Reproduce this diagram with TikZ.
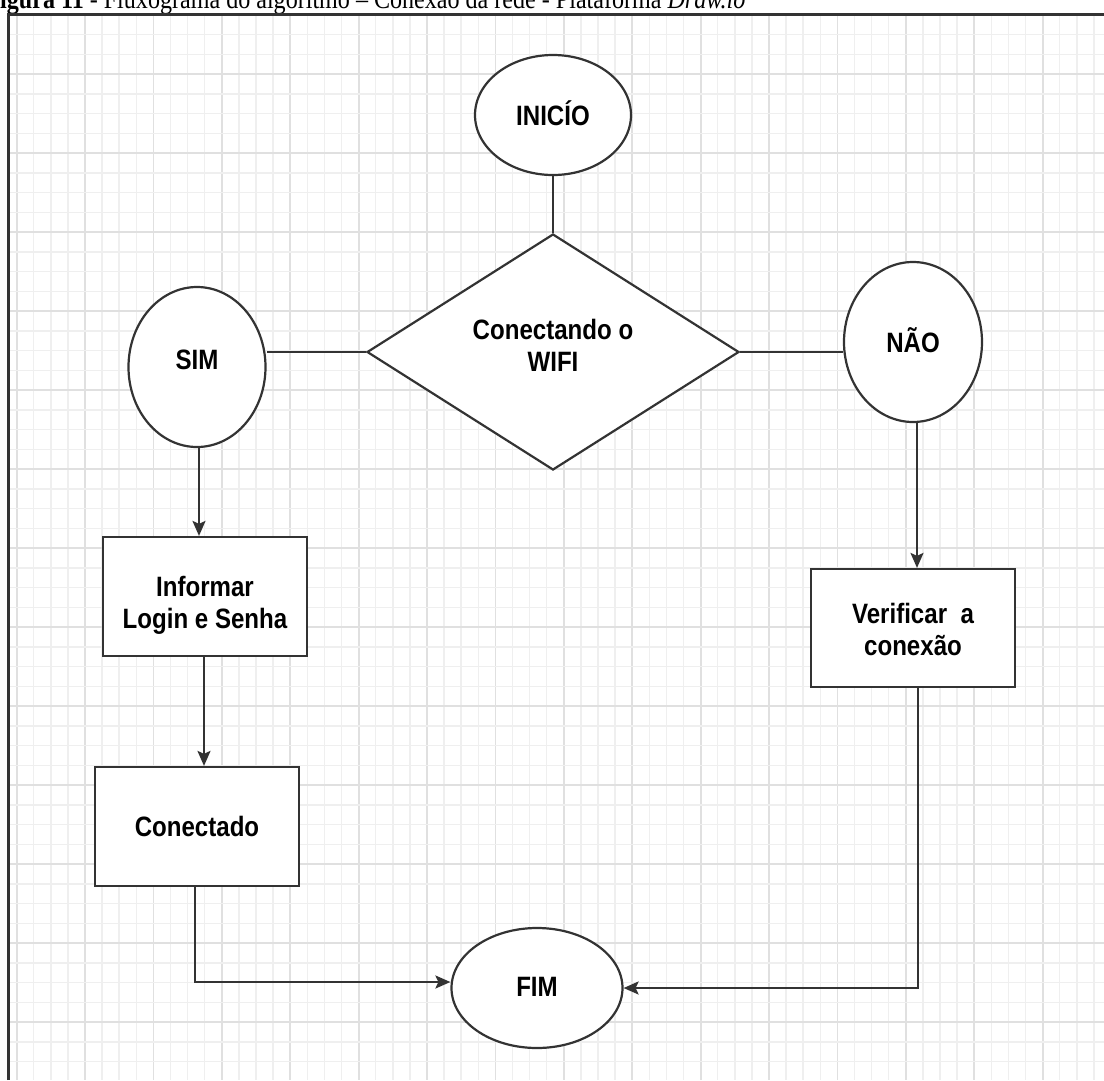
\documentclass[tikz,border=0pt]{standalone}
\usepackage{fontspec}
\usetikzlibrary{shapes.geometric,arrows.meta}
\newfontfamily\dfont{Liberation Sans}[FakeStretch=0.86]
\newfontfamily\cfont{Liberation Serif}[FakeStretch=0.86]
\definecolor{gridminor}{HTML}{EFEFEF}
\definecolor{gridmajor}{HTML}{E0E0E0}
\definecolor{strokec}{HTML}{333333}
\definecolor{framec}{HTML}{333333}
\begin{document}
\begin{tikzpicture}[x=1pt,y=-1pt,
  shp/.style={draw=strokec,line width=2.2pt,fill=white,inner sep=0pt},
  oval/.style={shp,ellipse},
  box/.style={shp,rectangle},
  lbl/.style={font=\dfont\bfseries\fontsize{28}{32}\selectfont,text=black,align=center,inner sep=0pt},
  conn/.style={draw=strokec,line width=2.2pt},
  arr/.style={conn,-{Stealth[length=15pt,width=13pt,inset=3pt]}}]
\useasboundingbox (0,0) rectangle (1104,1080);
\fill[white] (0,0) rectangle (1104,1080);
% grid
\begin{scope}
\clip (9,15) rectangle (1104,1080);
\foreach \k in {-4,...,60} {
  \pgfmathsetmacro{\xx}{85+17.1*\k}
  \pgfmathtruncatemacro{\m}{mod(\k+400,4)}
  \ifnum\m=0
    \draw[gridmajor,line width=1.8pt] (\xx,0) -- (\xx,1080);
  \else
    \draw[gridminor,line width=1.5pt] (\xx,0) -- (\xx,1080);
  \fi
}
\foreach \k in {-4,...,52} {
  \pgfmathsetmacro{\yy}{74+19.75*\k}
  \pgfmathtruncatemacro{\m}{mod(\k+400,4)}
  \ifnum\m=0
    \draw[gridmajor,line width=1.8pt] (0,\yy) -- (1104,\yy);
  \else
    \draw[gridminor,line width=1.5pt] (0,\yy) -- (1104,\yy);
  \fi
}
\end{scope}
% frame
\draw[framec,line width=3pt] (8,1080) -- (8,14) -- (1104,14);
% caption (cut at top, as in the reference)
\begin{scope}
\clip (0,0) rectangle (1104,12.5);
\node[anchor=base west,inner sep=0pt,font=\cfont\fontsize{28}{30}\selectfont] (cap) at (0,8)
  {{\bfseries igura 11} - Fluxograma do algoritmo – Conexão da rede - Plataforma \textit{Draw.io}};
\end{scope}
% shapes
\node[oval,minimum width=156pt,minimum height=120pt] (inicio) at (553,115) {};
\node[shp,diamond,minimum width=372pt,minimum height=236pt] (dec) at (553,352) {};
\node[oval,minimum width=137pt,minimum height=160pt] (sim) at (197,367) {};
\node[oval,minimum width=138pt,minimum height=160pt] (nao) at (913,342) {};
\node[box,minimum width=204pt,minimum height=119pt] (inf) at (205,596.5) {};
\node[box,minimum width=204pt,minimum height=119pt] (con) at (197,826.5) {};
\node[box,minimum width=204pt,minimum height=118pt] (ver) at (913,628) {};
\node[oval,minimum width=171pt,minimum height=120pt] (fim) at (537,988) {};
% labels
\node[lbl] (tinicio) at (553,113) {INICÍO};
\node[lbl] (tdec) at (553,345) {Conectando o\\WIFI};
\node[lbl] (tsim) at (197,360) {SIM};
\node[lbl] (tnao) at (913,340) {NÃO};
\node[lbl] (tinf) at (205,605) {Informar\\Login e Senha};
\node[lbl] (tcon) at (197,826) {Conectado};
\node[lbl] (tver) at (913,629) {Verificar\ \ a\\conexão};
\node[lbl] (tfim) at (537,987) {FIM};
% connectors
\coordinate (jl) at (195,982);
\draw[conn] (inicio.south) -- (dec.north);
\draw[conn] (dec.west) -- (dec.west -| sim.east);
\draw[conn] (dec.east) -- (dec.east -| nao.west);
\draw[arr] ([xshift=2pt]sim.south) -- ([xshift=2pt]sim.south |- inf.north);
\draw[arr] ([xshift=-1pt]inf.south) -- ([xshift=-1pt]inf.south |- con.north);
\draw[arr] ([xshift=4pt]nao.south) -- ([xshift=4pt]nao.south |- ver.north);
\draw[arr] (con.south -| jl) -- (jl) -- (jl -| fim.west);
\draw[arr] ([xshift=5pt]ver.south) |- (fim.east);
\end{tikzpicture}
\end{document}
